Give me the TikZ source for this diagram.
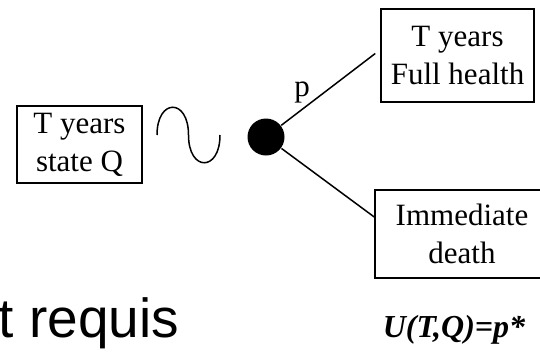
\documentclass[tikz,border=0pt]{standalone}
\usepackage{fontspec}
\setmainfont{Liberation Serif}
\setsansfont{Liberation Sans}
\usepackage{tikz}

\begin{document}
\begin{tikzpicture}[x=1pt, y=-1pt, line width=1.5pt,
    outcome/.style={draw, align=center, inner sep=0pt, font=\fontsize{31}{38}\selectfont}]
    \useasboundingbox (0,0) rectangle (540,351);
    \clip (0,0) rectangle (540,351);
    % boxes and chance node
    \node[outcome, minimum width=125pt, minimum height=77pt] (stateQ) at (79.5,144.5) {T years\\state Q};
    \node[outcome, minimum width=153pt, minimum height=93pt] (fullHealth) at (457.5,55.5) {T years\\Full health};
    \node[outcome, minimum width=174pt, minimum height=88pt] (death) at (462,234) {Immediate\\death};
    \node[circle, fill=black, inner sep=0pt, minimum size=37pt] (chance) at (266,137) {};
    % the wave
    \draw (157,135) .. controls (157,98) and (188.5,98) .. (188.5,135)
                    .. controls (188.5,172) and (220,172) .. (220,135);
    % branches
    \draw (chance) -- ([xshift=-5pt,yshift=2pt]fullHealth.west);
    \draw (chance) -- ([yshift=17pt]death.west);
    \node[anchor=base, font=\fontsize{31}{37}\selectfont] (prob) at (302,96) {p};
    % bottom line
    \node[anchor=base east, inner sep=0pt, font=\sffamily\fontsize{55}{60}\selectfont] (requis) at (180,337) {nt requis};
    \node[anchor=base west, inner sep=0pt, font=\bfseries\itshape\fontsize{32}{34}\selectfont] (utility) at (382,337) {U(T,Q)=p*};
\end{tikzpicture}
\end{document}
